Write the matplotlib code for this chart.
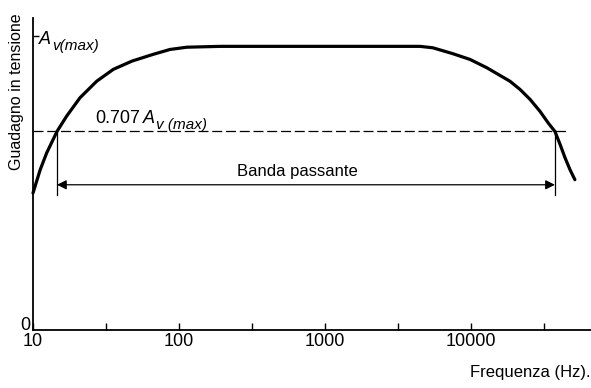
#!/usr/bin/env python
"""
Risposta in frequenza di un amplificatore: banda passante.
"""

import matplotlib
matplotlib.use("Agg")
import matplotlib.pyplot as plt
from matplotlib.ticker import NullFormatter

# curve (Hz, gain relative to Av(max))
freq = [10, 11.2, 12.4, 14.6, 17.0, 21.0, 27.3, 35.5, 47.6, 66.7, 86.7, 113, 191,
        4480, 5480, 7530, 9840, 12800, 18500, 21700, 25400, 29700, 33800, 37600,
        40800, 44100, 47700, 51500]
gain = [0.483, 0.565, 0.624, 0.70, 0.754, 0.819, 0.877, 0.919, 0.948, 0.972, 0.989, 0.997, 1.0,
        1.0, 0.995, 0.974, 0.954, 0.925, 0.877, 0.848, 0.813, 0.771, 0.730, 0.70,
        0.654, 0.607, 0.565, 0.530]

f_low = 14.6
f_high = 37600
cut_level = 0.70   # where the dashed 0.707 line sits in the drawing
av_max_mark = 1.035

major_ticks = [10, 100, 1000, 10000]
major_labels = ["10", "100", "1000", "10000"]
minor_ticks = [31.6, 316, 3162, 31623]

plt.rcParams["font.family"] = ["Liberation Sans", "DejaVu Sans"]

W, H = 591, 388
fig = plt.figure(figsize=(W / 100, H / 100), dpi=100)
ax = fig.add_axes([33 / W, (H - 330) / H, (W - 33) / W, (330 - 18) / H])


def pix(x, y):
    return x / W, 1 - y / H


ax.set_xscale("log")
ax.set_xlim(10, 66400)
ax.set_ylim(0, 1.10)

ax.plot(freq, gain, color="black", lw=2.3, solid_capstyle="round",
        solid_joinstyle="round", clip_on=False)

# 0.707 level
ax.plot([10, 46000], [cut_level, cut_level], color="black", lw=0.9, dashes=(8, 3))

# band edges and arrow
for f in (f_low, f_high):
    ax.plot([f, f], [cut_level, 0.477], color="black", lw=0.9)
ax.annotate("", xy=(f_low, 0.512), xytext=(f_high, 0.512),
            arrowprops=dict(arrowstyle="<|-|>", color="black", lw=0.9,
                            mutation_scale=14, shrinkA=0, shrinkB=0))
ax.text(650, 0.558, "Banda passante", fontsize=12, ha="center", va="center")

# labels with their own subscripts
fig.text(*pix(39, 40), "A", fontsize=13, style="italic", va="center", ha="left")
fig.text(*pix(52, 46), "v(max)", fontsize=11, style="italic", va="center", ha="left")
fig.text(*pix(95, 118.5), "0.707", fontsize=13, va="center", ha="left")
fig.text(*pix(143, 118.5), "A", fontsize=13, style="italic", va="center", ha="left")
fig.text(*pix(156, 125), "v (max)", fontsize=11, style="italic", va="center", ha="left")

for s in ("top", "right"):
    ax.spines[s].set_visible(False)
for s in ("left", "bottom"):
    ax.spines[s].set_linewidth(1.3)

ax.set_xticks(major_ticks)
ax.set_xticklabels(major_labels, fontsize=13)
ax.set_xticks(minor_ticks, minor=True)
ax.xaxis.set_minor_formatter(NullFormatter())
ax.tick_params(axis="x", which="both", direction="in", length=5, width=1, pad=2)

ax.set_yticks([av_max_mark])
ax.set_yticklabels([""])
ax.tick_params(axis="y", direction="in", length=4, width=1)
fig.text(*pix(25, 326), "0", fontsize=13, ha="center", va="center")

fig.text(*pix(17, 92), "Guadagno in tensione", fontsize=11.5, rotation=90,
         ha="center", va="center")
fig.text(*pix(590, 373), "Frequenza (Hz).", fontsize=12, ha="right", va="center")

fig.savefig("out.png", dpi=100)
